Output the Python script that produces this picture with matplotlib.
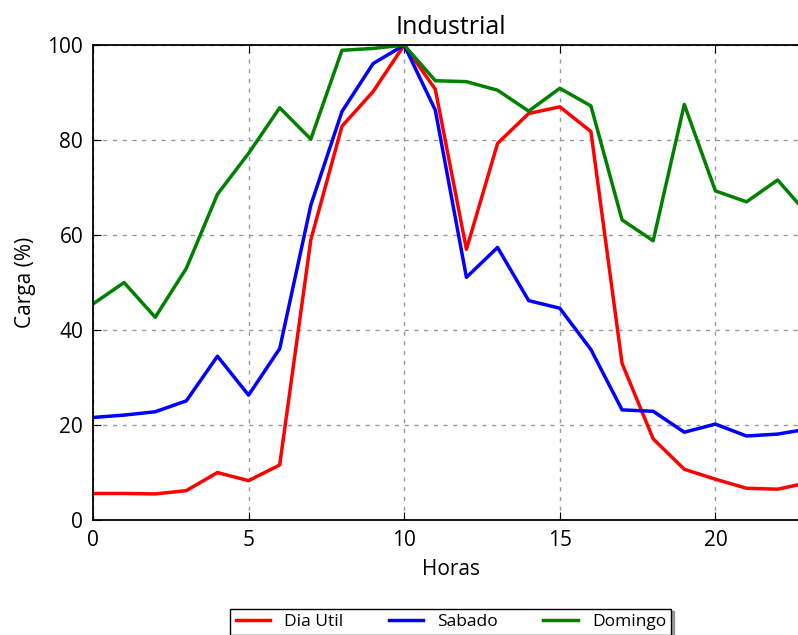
import matplotlib
matplotlib.use("Agg")
import matplotlib.pyplot as plt
import numpy as np

plt.rcParams['font.family'] = ['Open Sans', 'DejaVu Sans']

horas = list(range(24))

dia_util = [5.6, 5.6, 5.5, 6.2, 10.0, 8.3, 11.6, 59.0, 82.9, 90.2, 100.0, 90.7,
            57.0, 79.3, 85.6, 87.0, 81.8, 33.0, 17.1, 10.7, 8.6, 6.7, 6.5, 7.9]
sabado = [21.6, 22.1, 22.8, 25.1, 34.5, 26.3, 36.1, 66.3, 86.0, 96.1, 100.0, 86.3,
          51.1, 57.4, 46.2, 44.6, 35.9, 23.2, 22.9, 18.5, 20.2, 17.7, 18.1, 19.2]
domingo = [45.5, 50.0, 42.7, 53.0, 68.6, 77.2, 86.8, 80.2, 98.9, 99.3, 100.0, 92.5,
           92.3, 90.5, 86.1, 90.9, 87.2, 63.2, 58.8, 87.5, 69.3, 67.0, 71.6, 64.1]

fig = plt.figure(figsize=(7.98, 6.35), dpi=100)
ax = fig.add_axes([0.1165, 0.181, 0.897, 0.748])

ax.plot(horas, dia_util, color='red', lw=2.5, label='Dia Util')
ax.plot(horas, sabado, color='blue', lw=2.5, label='Sabado')
ax.plot(horas, domingo, color='green', lw=2.5, label='Domingo')

ax.set_xlim(0, 23)
ax.set_ylim(0, 100)
ax.set_xticks([0, 5, 10, 15, 20])
ax.set_yticks([0, 20, 40, 60, 80, 100])
ax.grid(True, linestyle=(0, (3, 4)), color='#999999', lw=1)
ax.tick_params(direction='in', length=6, top=True, right=True, labelsize=15, pad=7)
for s in ax.spines.values():
    s.set_linewidth(1.3)

ax.set_title('Industrial', fontsize=18, pad=8)
ax.set_xlabel('Horas', fontsize=15, labelpad=6)
ax.set_ylabel('Carga (%)', fontsize=15, labelpad=8)

leg = ax.legend(loc='upper center', bbox_to_anchor=(0.5, -0.168), ncol=3,
                fontsize=12.5, shadow=True, fancybox=False, framealpha=1,
                edgecolor='black', handlelength=2.0, columnspacing=2.6,
                borderpad=0.3)
leg.get_frame().set_linewidth(1)

fig.savefig('out.png', dpi=100)
